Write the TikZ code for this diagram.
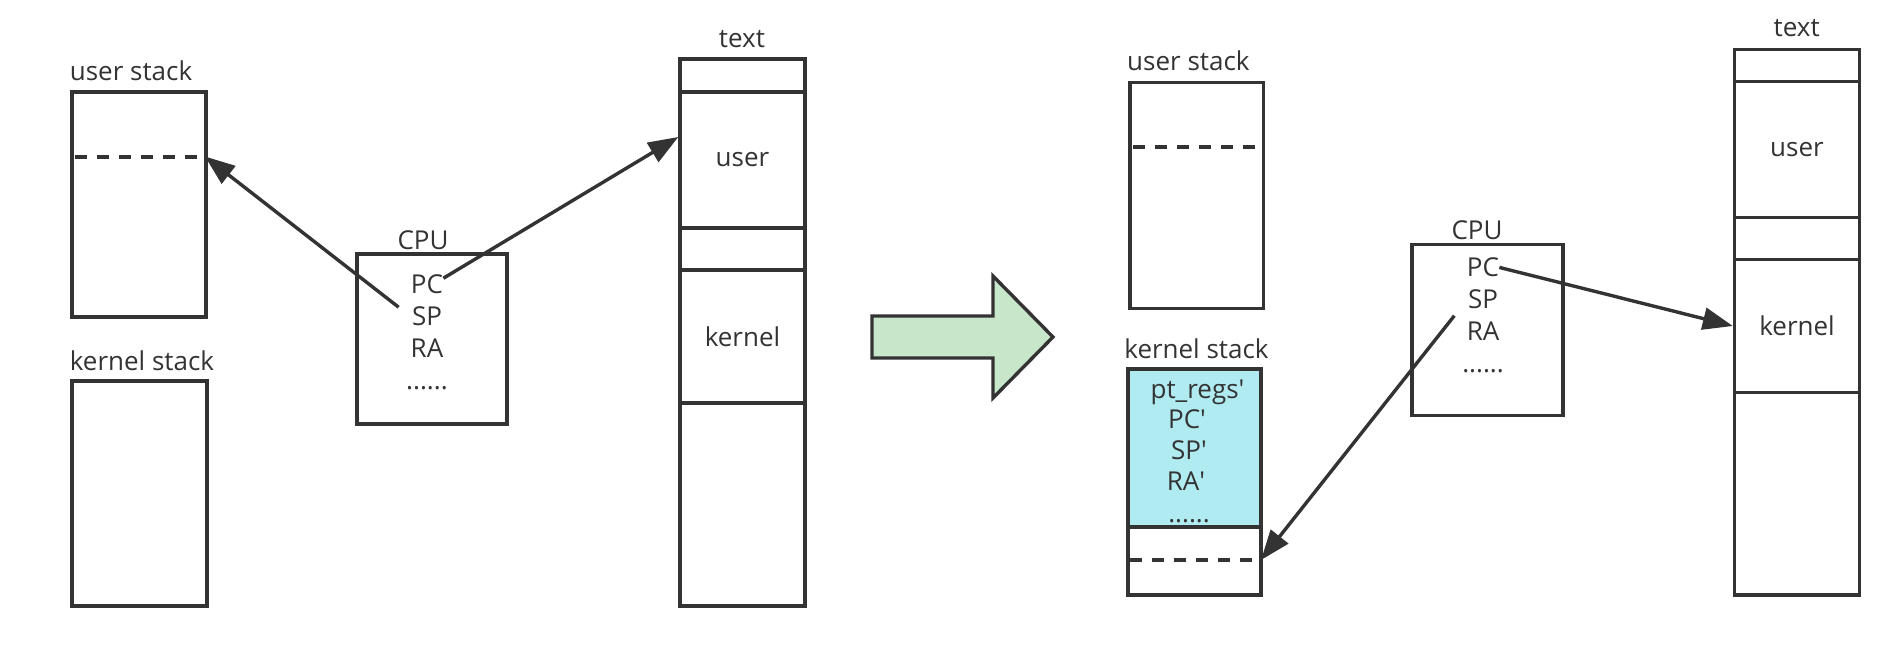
\documentclass[tikz,border=0pt]{standalone}
\usepackage{fontspec}
\setmainfont{Open Sans}
\usepackage{xcolor}
\usepackage{tikz}
\usetikzlibrary{arrows.meta}
\definecolor{darkline}{HTML}{333333}
\definecolor{regcyan}{HTML}{B0EBF2}
\definecolor{trapgreen}{HTML}{C8E6C9}
\tikzstyle{mybox} = [draw=darkline, line width=1.7pt, rectangle, inner sep=0pt,
text=darkline, font=\fontsize{13}{15}\selectfont]
\tikzstyle{mylabel} = [text=darkline, inner sep=0pt, font=\fontsize{13}{15}\selectfont]
\tikzstyle{myreg} = [mylabel, anchor=base]
\tikzstyle{myarrow} = [draw=darkline, line width=1.7pt, -{Triangle[length=15pt,width=11pt]}]
\tikzstyle{mydash} = [draw=darkline, line width=2pt, dash pattern=on 6pt off 5pt]

\begin{document}
\begin{tikzpicture}[x=0.5pt, y=-0.5pt]
        \useasboundingbox (0,0) rectangle (1897,660);
        % before the trap
        \node [mybox, minimum width=67pt, minimum height=112.5pt] (ustackL) at (139,204.5) {};
        \node [mylabel] at (131,71) {user stack};
        \coordinate (dashL1) at (75,156.5);
        \coordinate (dashL2) at (205,156.5);
        \draw [mydash] (dashL1) -- (dashL2);
        \node [mybox, minimum width=67.5pt, minimum height=112.5pt] (kstackL) at (139.5,493.5) {};
        \node [mylabel] at (142,361) {kernel stack};
        \node [mybox, minimum width=75pt, minimum height=85pt] (cpuL) at (432,339) {};
        \node [mylabel] at (423,240) {CPU};
        \node [myreg] (pcL) at (427,293.5) {PC};
        \node [myreg] (spL) at (427,325.5) {SP};
        \node [myreg] (raL) at (427,357.5) {RA};
        \node [myreg] (dotsL) at (427,389.5) {......};
        \node [mybox, minimum width=62.5pt, minimum height=16.5pt] (topL) at (742.5,75.5) {};
        \node [mybox, minimum width=62.5pt, minimum height=68pt] (userL) at (742.5,160) {user};
        \node [mybox, minimum width=62.5pt, minimum height=21pt] (gapL) at (742.5,249) {};
        \node [mybox, minimum width=62.5pt, minimum height=66.5pt] (kernelL) at (742.5,336.5) {kernel};
        \node [mybox, minimum width=62.5pt, minimum height=101.5pt] (restL) at (742.5,504.5) {};
        \node [mylabel] at (742,39) {text};
        \draw [myarrow] ([shift={(-13,-9)}]spL.west) -- (dashL2);
        \draw [myarrow] ([yshift=3pt]pcL.east) -- ([yshift=11.5pt]userL.west);
        \draw [draw=darkline, line width=1.7pt, fill=trapgreen]
            (872,316) -- (993,316) -- (993,276) -- (1053,337) -- (993,398) -- (993,358) -- (872,358) -- cycle;
        % after the trap
        \node [mybox, minimum width=66.75pt, minimum height=113pt] (ustackR) at (1196.8,195.3) {};
        \node [mylabel] at (1188.4,61) {user stack};
        \coordinate (dashR1) at (1133,146.8);
        \coordinate (dashR2) at (1262,146.8);
        \draw [mydash] (dashR1) -- (dashR2);
        \node [mybox, minimum width=66.5pt, minimum height=113pt] (kstackR) at (1194.5,482) {};
        \node [mybox, fill=regcyan, minimum width=66.5pt, minimum height=79pt] (regsR) at (1194.5,448) {};
        \node [mylabel] at (1196.5,349) {kernel stack};
        \node [myreg] (ptregs) at (1197.5,398) {pt\_regs\textquotesingle};
        \node [myreg] (pcsave) at (1187,428) {PC\textquotesingle};
        \node [myreg] (spsave) at (1189,459) {SP\textquotesingle};
        \node [myreg] (rasave) at (1186,490) {RA\textquotesingle};
        \node [myreg] (dotsave) at (1189,522) {......};
        \coordinate (dashK1) at (1130,560);
        \coordinate (dashK2) at (1261,560);
        \draw [mydash] (dashK1) -- (dashK2);
        \node [mybox, minimum width=75.5pt, minimum height=85.5pt] (cpuR) at (1487.5,329.7) {};
        \node [mylabel] at (1477,230.5) {CPU};
        \node [myreg] (pcR) at (1483,276.7) {PC};
        \node [myreg] (spR) at (1483,308.3) {SP};
        \node [myreg] (raR) at (1483,340) {RA};
        \node [myreg] (dotsR) at (1483,372.3) {......};
        \node [mybox, minimum width=62.5pt, minimum height=16pt] (topR) at (1797,65.4) {};
        \node [mybox, minimum width=62.5pt, minimum height=68pt] (userR) at (1797,149.4) {user};
        \node [mybox, minimum width=62.5pt, minimum height=21pt] (gapR) at (1797,238.4) {};
        \node [mybox, minimum width=62.5pt, minimum height=66.5pt] (kernelR) at (1797,326) {kernel};
        \node [mybox, minimum width=62.5pt, minimum height=101.3pt] (restR) at (1797,493.7) {};
        \node [mylabel] at (1796.7,28.5) {text};
        \draw [myarrow] (pcR.east) -- (kernelR.west);
        \draw [myarrow] ([shift={(-12,-15)}]raR.west) -- (dashK2);
    \end{tikzpicture}
\end{document}
